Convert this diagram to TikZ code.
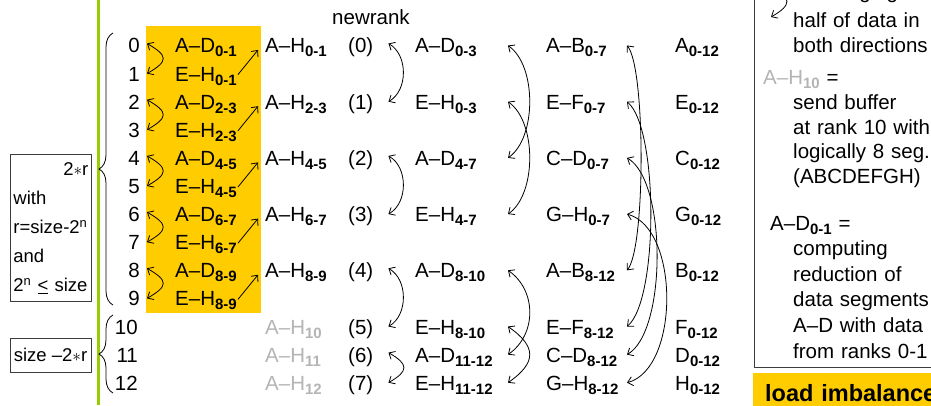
\documentclass[tikz,border=0pt]{standalone}
\usepackage{fontspec}
\setmainfont{Liberation Sans}
\usetikzlibrary{arrows.meta, positioning, decorations.pathreplacing}
\definecolor{SlideOrange}{HTML}{FFCC00}
\definecolor{SlideGreen}{HTML}{99CC00}
\definecolor{FadedGrey}{HTML}{B4B4B4}
\definecolor{BoxLine}{HTML}{3C3C3C}
\newcommand{\rowfont}{\fontsize{20.5}{24}\selectfont}
\newcommand{\boxfont}{\fontsize{18.5}{29}\selectfont}
\newcommand{\legfont}{\fontsize{20.5}{24.5}\selectfont}
\newcommand{\seg}[1]{\raisebox{-4pt}{\fontsize{15}{15}\selectfont\bfseries #1}}
\tikzset{
    % Text styles - one row every 28.1pt
    cell/.style={
        anchor=west,
        inner sep=0pt,
        text height=17pt,
        text depth=2pt,
        font=\rowfont
    },
    rank/.style={
        cell,
        anchor=east
    },
    faded/.style={
        cell,
        text=FadedGrey
    },
    legend/.style={
        anchor=base west,
        inner sep=0pt,
        text width=150pt,
        align=left,
        font=\legfont
    },
    % Box styles
    sidebox/.style={
        rectangle,
        draw=BoxLine,
        line width=0.8pt,
        inner xsep=3pt,
        font=\boxfont
    },
    hilite/.style={
        rectangle,
        fill=SlideOrange,
        text width=176pt,
        align=left,
        inner xsep=12pt,
        inner ysep=12pt,
        text height=16pt,
        text depth=0pt,
        font=\fontsize{23.5}{27}\selectfont\bfseries
    },
    rankbrace/.style={
        decorate,
        decoration={brace, amplitude=14pt},
        line width=0.8pt
    },
    % Arrow styles
    xchg/.style={
        {Straight Barb[length=5pt,width=9pt]}-{Straight Barb[length=5pt,width=9pt]},
        line width=0.8pt
    },
    arrow/.style={
        -{Straight Barb[length=5pt,width=9pt]},
        line width=0.8pt
    }
}
\begin{document}
\begin{tikzpicture}[x=1pt, y=1pt]
    \useasboundingbox (0,0) rectangle (931,-406);
    \clip (0,0) rectangle (931,-406);

    % slide bar and reduction band
    \draw[SlideGreen, line width=3pt] (98,5) -- (98,-405);
    \fill[SlideOrange] (146,-26) rectangle (261,-313);

    % left side notes
    \node[sidebox, anchor=north west, text width=75pt, align=left, inner ysep=8pt] (twor) at (10,-154)
        {\makebox[75pt][r]{2$\ast$r}\\with\\r=size-2\textsuperscript{n}\\and\\2\textsuperscript{n} \underline{<} size};
    \node[sidebox, minimum width=81pt, minimum height=34pt, inner sep=2pt] (rest) at (50.5,-355) {size --2$\ast$r};
    \draw[rankbrace] (113,-305) -- (113,-33);
    \draw[rankbrace] (113,-393) -- (113,-315);

    % ranks
    \node[rank] (r0) at (140,-45.5) {0};
    \node[rank] (r1) at (140,-73.6) {1};
    \node[rank] (r2) at (140,-101.7) {2};
    \node[rank] (r3) at (140,-129.8) {3};
    \node[rank] (r4) at (140,-157.9) {4};
    \node[rank] (r5) at (140,-186.0) {5};
    \node[rank] (r6) at (140,-214.1) {6};
    \node[rank] (r7) at (140,-242.2) {7};
    \node[rank] (r8) at (140,-270.3) {8};
    \node[rank] (r9) at (140,-298.4) {9};
    \node[rank] (r10) at (138,-326.5) {10};
    \node[rank] (r11) at (138,-354.6) {11};
    \node[rank] (r12) at (138,-382.7) {12};

    % first step: pairs of ranks
    \node[cell] (ad01) at (175,-45.5) {A--D\seg{0-1}};
    \node[cell] (eh01) at (175,-73.6) {E--H\seg{0-1}};
    \node[cell] (ad23) at (175,-101.7) {A--D\seg{2-3}};
    \node[cell] (eh23) at (175,-129.8) {E--H\seg{2-3}};
    \node[cell] (ad45) at (175,-157.9) {A--D\seg{4-5}};
    \node[cell] (eh45) at (175,-186.0) {E--H\seg{4-5}};
    \node[cell] (ad67) at (175,-214.1) {A--D\seg{6-7}};
    \node[cell] (eh67) at (175,-242.2) {E--H\seg{6-7}};
    \node[cell] (ad89) at (175,-270.3) {A--D\seg{8-9}};
    \node[cell] (eh89) at (175,-298.4) {E--H\seg{8-9}};

    \node[cell] (ah01) at (265,-45.5) {A--H\seg{0-1}};
    \node[cell] (ah23) at (265,-101.7) {A--H\seg{2-3}};
    \node[cell] (ah45) at (265,-157.9) {A--H\seg{4-5}};
    \node[cell] (ah67) at (265,-214.1) {A--H\seg{6-7}};
    \node[cell] (ah89) at (265,-270.3) {A--H\seg{8-9}};
    \node[faded] (ah10) at (265,-326.5) {A--H\seg{10}};
    \node[faded] (ah11) at (265,-354.6) {A--H\seg{11}};
    \node[faded] (ah12) at (265,-382.7) {A--H\seg{12}};

    \draw[xchg] ([xshift=7pt,yshift=2pt]r0.east) to[out=-30, in=30, looseness=2.1] ([xshift=7pt]r1.east);
    \draw[xchg] ([xshift=7pt,yshift=2pt]r2.east) to[out=-30, in=30, looseness=2.1] ([xshift=7pt]r3.east);
    \draw[xchg] ([xshift=7pt,yshift=2pt]r4.east) to[out=-30, in=30, looseness=2.1] ([xshift=7pt]r5.east);
    \draw[xchg] ([xshift=7pt,yshift=2pt]r6.east) to[out=-30, in=30, looseness=2.1] ([xshift=7pt]r7.east);
    \draw[xchg] ([xshift=7pt,yshift=2pt]r8.east) to[out=-30, in=30, looseness=2.1] ([xshift=7pt]r9.east);
    \draw[arrow] ([xshift=1pt,yshift=-1pt]eh01.east) -- ([xshift=-7pt,yshift=-4.5pt]ah01.west);
    \draw[arrow] ([xshift=1pt,yshift=-1pt]eh23.east) -- ([xshift=-7pt,yshift=-4.5pt]ah23.west);
    \draw[arrow] ([xshift=1pt,yshift=-1pt]eh45.east) -- ([xshift=-7pt,yshift=-4.5pt]ah45.west);
    \draw[arrow] ([xshift=1pt,yshift=-1pt]eh67.east) -- ([xshift=-7pt,yshift=-4.5pt]ah67.west);
    \draw[arrow] ([xshift=1pt,yshift=-1pt]eh89.east) -- ([xshift=-7pt,yshift=-4.5pt]ah89.west);

    % new ranks
    \node[cell] (newrank) at (332,-17.5) {newrank};
    \node[cell] (n0) at (348,-45.5) {(0)};
    \node[cell] (n1) at (348,-101.7) {(1)};
    \node[cell] (n2) at (348,-157.9) {(2)};
    \node[cell] (n3) at (348,-214.1) {(3)};
    \node[cell] (n4) at (348,-270.3) {(4)};
    \node[cell] (n5) at (348,-326.5) {(5)};
    \node[cell] (n6) at (348,-354.6) {(6)};
    \node[cell] (n7) at (348,-382.7) {(7)};

    \draw[xchg] ([xshift=15pt,yshift=2pt]n0.east) to[out=-30, in=30, looseness=1] ([xshift=15pt]n1.east);
    \draw[xchg] ([xshift=15pt,yshift=2pt]n2.east) to[out=-30, in=30, looseness=1] ([xshift=15pt]n3.east);
    \draw[xchg] ([xshift=15pt,yshift=2pt]n4.east) to[out=-30, in=30, looseness=1] ([xshift=15pt]n5.east);
    \draw[xchg] ([xshift=15pt,yshift=2pt]n6.east) to[out=-30, in=30, looseness=2] ([xshift=15pt]n7.east);

    % second step
    \node[cell] (ad03) at (415,-45.5) {A--D\seg{0-3}};
    \node[cell] (eh03) at (415,-101.7) {E--H\seg{0-3}};
    \node[cell] (ad47) at (415,-157.9) {A--D\seg{4-7}};
    \node[cell] (eh47) at (415,-214.1) {E--H\seg{4-7}};
    \node[cell] (ad810) at (415,-270.3) {A--D\seg{8-10}};
    \node[cell] (eh810) at (415,-326.5) {E--H\seg{8-10}};
    \node[cell] (ad1112) at (415,-354.6) {A--D\seg{11-12}};
    \node[cell] (eh1112) at (415,-382.7) {E--H\seg{11-12}};

    \coordinate (x3) at (508,0);
    \draw[xchg] (x3 |- ad03.east) to[out=-35, in=35, looseness=0.8] (x3 |- ad47.east);
    \draw[xchg] (x3 |- eh03.east) to[out=-35, in=35, looseness=0.8] (x3 |- eh47.east);
    \draw[xchg] (x3 |- ad810.east) to[out=-35, in=35, looseness=1.07] (x3 |- ad1112.east);
    \draw[xchg] (x3 |- eh810.east) to[out=-35, in=35, looseness=1.6] (x3 |- eh1112.east);

    % third step
    \node[cell] (ab07) at (546,-45.5) {A--B\seg{0-7}};
    \node[cell] (ef07) at (546,-101.7) {E--F\seg{0-7}};
    \node[cell] (cd07) at (546,-157.9) {C--D\seg{0-7}};
    \node[cell] (gh07) at (546,-214.1) {G--H\seg{0-7}};
    \node[cell] (ab812) at (546,-270.3) {A--B\seg{8-12}};
    \node[cell] (ef812) at (546,-326.5) {E--F\seg{8-12}};
    \node[cell] (cd812) at (546,-354.6) {C--D\seg{8-12}};
    \node[cell] (gh812) at (546,-382.7) {G--H\seg{8-12}};

    \coordinate (x4) at (627,0);
    \draw[xchg] (x4 |- ab07.east) to[out=-50, in=50, looseness=0.33] (x4 |- ab812.east);
    \draw[xchg] (x4 |- ef07.east) to[out=-40, in=40, looseness=0.47] (x4 |- ef812.east);
    \draw[xchg] (x4 |- cd07.east) to[out=-30, in=30, looseness=0.6] (x4 |- cd812.east);
    \draw[xchg] (x4 |- gh07.east) to[out=-15, in=15, looseness=0.83] (x4 |- gh812.east);

    % result
    \node[cell] (a012) at (675,-45.5) {A\seg{0-12}};
    \node[cell] (e012) at (675,-101.7) {E\seg{0-12}};
    \node[cell] (c012) at (675,-157.9) {C\seg{0-12}};
    \node[cell] (g012) at (675,-214.1) {G\seg{0-12}};
    \node[cell] (b012) at (675,-270.3) {B\seg{0-12}};
    \node[cell] (f012) at (675,-326.5) {F\seg{0-12}};
    \node[cell] (d012) at (675,-354.6) {D\seg{0-12}};
    \node[cell] (h012) at (675,-382.7) {H\seg{0-12}};

    % legend
    \draw[BoxLine, line width=0.8pt] (754,20) rectangle (950,-367);
    \coordinate (lgtop) at (771,14);
    \coordinate (lgbot) at (771,-17);
    \draw[xchg] (lgtop) to[out=-30, in=30, looseness=2] (lgbot);
    \node[legend] (lgxchg) at (793,1) {exchanging};
    \node[legend] (lghalf) at (793,-28) {half of data in\\both directions};
    \node[legend] (lgah) at (763,-85) {\textcolor{FadedGrey}{A--H\seg{10}} =};
    \node[legend] (lgsend) at (793,-110) {send buffer\\at rank 10 with\\logically 8 seg.\\(ABCDEFGH)};
    \node[legend] (lgad) at (770,-230) {A--D\seg{0-1} =};
    \node[legend, font=\fontsize{20.5}{25.6}\selectfont] (lgcomp) at (793,-255.6) {computing\\reduction of\\data segments\\A--D with data\\from ranks 0-1};
    \node[hilite, anchor=north west] (imbal) at (753,-373) {load imbalance};
\end{tikzpicture}
\end{document}
